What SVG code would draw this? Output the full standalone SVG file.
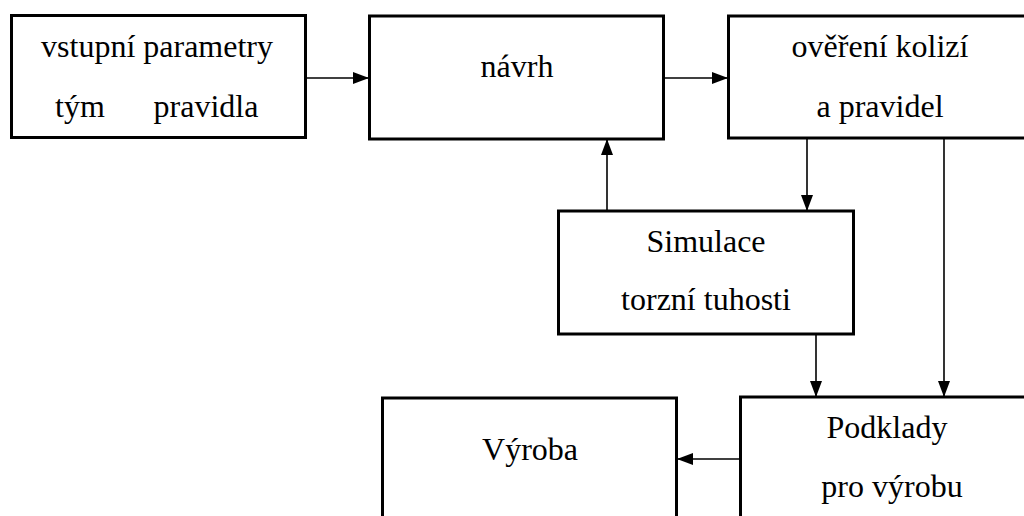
<svg xmlns="http://www.w3.org/2000/svg" width="1024" height="516" viewBox="0 0 1024 516">
<style>
.box{fill:#fff;stroke:#000;stroke-width:3}
.lbl{font-family:"Liberation Serif","Times New Roman",serif;font-size:32px;fill:#000;text-anchor:middle}
.con{stroke:#000;stroke-width:1.6;fill:none}
</style>
<defs>
<marker id="ah" markerWidth="16" markerHeight="12" refX="16" refY="6" orient="auto" markerUnits="userSpaceOnUse">
<path d="M0,0 L16,6 L0,12 Z" fill="#000"/>
</marker>
</defs>
<rect width="1024" height="516" fill="#fff"/>
<g id="connectors">
<line class="con" x1="306" y1="78" x2="369" y2="78" marker-end="url(#ah)"/>
<line class="con" x1="664" y1="78" x2="728" y2="78" marker-end="url(#ah)"/>
<line class="con" x1="607" y1="211" x2="607" y2="139" marker-end="url(#ah)"/>
<line class="con" x1="807" y1="138" x2="807" y2="211" marker-end="url(#ah)"/>
<line class="con" x1="816" y1="334" x2="816" y2="397" marker-end="url(#ah)"/>
<line class="con" x1="944" y1="138" x2="944" y2="397" marker-end="url(#ah)"/>
<line class="con" x1="740" y1="459" x2="677" y2="459" marker-end="url(#ah)"/>
</g>
<g id="vstup">
<rect class="box" x="11.5" y="15.5" width="294" height="122"/>
<text class="lbl" x="157" y="57">vstupní parametry</text>
<text class="lbl" x="80" y="117">tým</text>
<text class="lbl" x="206" y="117">pravidla</text>
</g>
<g id="navrh">
<rect class="box" x="369.5" y="16" width="294" height="123"/>
<text class="lbl" x="517" y="77">návrh</text>
</g>
<g id="overeni">
<rect class="box" x="728.5" y="16" width="310" height="122"/>
<text class="lbl" x="880" y="57">ověření kolizí</text>
<text class="lbl" x="880" y="117">a pravidel</text>
</g>
<g id="simulace">
<rect class="box" x="558.5" y="211" width="295" height="123"/>
<text class="lbl" x="706" y="252">Simulace</text>
<text class="lbl" x="706" y="310">torzní tuhosti</text>
</g>
<g id="vyroba">
<rect class="box" x="382.5" y="398" width="294" height="140"/>
<text class="lbl" x="530" y="460">Výroba</text>
</g>
<g id="podklady">
<rect class="box" x="740.5" y="397" width="300" height="140"/>
<text class="lbl" x="887" y="438">Podklady</text>
<text class="lbl" x="892" y="497">pro výrobu</text>
</g>
</svg>
